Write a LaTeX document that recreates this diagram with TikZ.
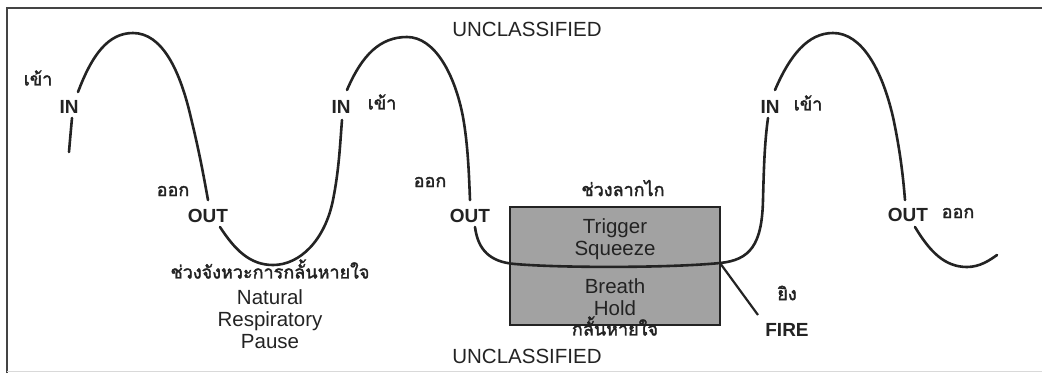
\documentclass[tikz,border=0pt]{standalone}
\usepackage{fontspec}
\setmainfont{Liberation Sans}
\newfontfamily\thaifont[Script=Thai, FakeBold=2]{Loma}
\definecolor{ink}{RGB}{35,35,35}
\definecolor{boxfill}{RGB}{162,162,162}
\begin{document}
\begin{tikzpicture}[x=1pt,y=-1pt,
  curve/.style={line width=2.6pt, line cap=round, draw=ink},
  lbl/.style={font=\fontsize{20.5}{22}\selectfont, text=ink, inner sep=0pt, align=center},
  blbl/.style={font=\bfseries\fontsize{19}{22}\selectfont, text=ink, inner sep=0pt},
  thai/.style={font=\thaifont\fontsize{18}{20}\selectfont, text=ink, inner sep=0pt}]
\useasboundingbox (0,0) rectangle (1042,373);
% frame
\draw[line width=2.6pt, draw=ink!85] (7,373) -- (7,8) -- (1042,8);
\draw[line width=0.8pt, draw=black!15] (7,371) -- (1042,371);

% box
\node[draw=ink, line width=2pt, fill=boxfill, minimum width=210pt, minimum height=118pt, inner sep=0pt] (box) at (615,266) {};

% breathing curve (broken where the labels sit)
\coordinate (a0) at (69,152);
\coordinate (a1) at (72,118);
\coordinate (b0) at (78,92);
\coordinate (b1) at (208,200);
\coordinate (c0) at (220,227);
\coordinate (c1) at (342,120);
\coordinate (d0) at (347,90);
\coordinate (d1) at (470,200);
\coordinate (e0) at (475,227);
\coordinate (e1) at (768,118);
\coordinate (f0) at (775,90);
\coordinate (f1) at (905,200);
\coordinate (g0) at (915,227);
\coordinate (g1) at (997,255);

\draw[curve] (a0) .. controls (70,140) .. (a1);
\draw[curve] (b0) .. controls (92,55) and (108,33) .. (133,33)
  .. controls (162,33) and (180,70) .. (191,118)
  .. controls (200,155) and (204,178) .. (b1);
\draw[curve] (c0) .. controls (235,250) and (250,265) .. (273,265)
  .. controls (300,265) and (325,240) .. (333,200)
  .. controls (339,170) and (340,145) .. (c1);
\draw[curve] (d0) .. controls (362,55) and (380,37) .. (407,37)
  .. controls (435,37) and (455,75) .. (463,117)
  .. controls (468,145) and (469,175) .. (d1);
\draw[curve] (e0) .. controls (478,250) and (490,262) .. (515,264)
  .. controls (560,268) and (670,268) .. (720,263)
  .. controls (750,260) and (762,245) .. (763,200)
  .. controls (764,160) and (765,140) .. (e1);
\draw[curve] (f0) .. controls (790,55) and (808,33) .. (833,33)
  .. controls (862,33) and (882,70) .. (893,117)
  .. controls (900,150) and (903,175) .. (f1);
\draw[curve] (g0) .. controls (930,252) and (945,267) .. (967,267)
  .. controls (980,267) and (990,260) .. (g1);

\coordinate (firestart) at (720,263);
\coordinate (fireend) at (758,315);
\node[blbl] (fire) at (787,330) {FIRE};
\draw[line width=2.2pt, draw=ink] (firestart) -- (fireend);

% labels
\node[lbl] (unc1) at (527,29) {UNCLASSIFIED};
\node[lbl] (unc2) at (527,356) {UNCLASSIFIED};

\node[thai] (in1t) at (38,78) {เข้า};
\node[blbl] (in1) at (69,107) {IN};
\node[thai] (out1t) at (173,191) {ออก};
\node[blbl] (out1) at (208,216) {OUT};

\node[blbl] (in2) at (341,107) {IN};
\node[thai] (in2t) at (382,102) {เข้า};
\node[thai] (out2t) at (430,182) {ออก};
\node[blbl] (out2) at (470,216) {OUT};

\node[blbl] (in3) at (770,107) {IN};
\node[thai] (in3t) at (808,103) {เข้า};
\node[blbl] (out3) at (908,215) {OUT};
\node[thai] (out3t) at (958,213) {ออก};

\node[thai] (pauset) at (270,269) {ช่วงจังหวะการกลั้นหายใจ};
\node[lbl] (pause) at (270,319) {Natural\\Respiratory\\Pause};

\node[thai] (trigt) at (623,188) {ช่วงลากไก};
\node[lbl] (trig) at (615,239) {Trigger\\Squeeze};
\node[lbl] (hold) at (615,297) {Breath\\Hold};
\node[thai] (holdt) at (615,326) {กลั้นหายใจ};

\node[thai] (firet) at (787,293) {ยิง};
\end{tikzpicture}
\end{document}
